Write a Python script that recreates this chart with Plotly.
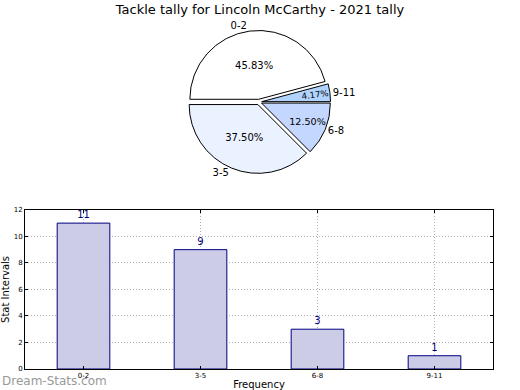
import plotly.graph_objects as go

categories = ["0-2", "3-5", "6-8", "9-11"]
counts = [11, 9, 3, 1]
pie_colors = ["#ffffff", "#eaf1ff", "#c4d8ff", "#b0d4ff"]
y_ticks = [0, 2, 4, 6, 8, 10, 12]
title_text = "Tackle tally for Lincoln McCarthy - 2021 tally"

FONT = "DejaVu Sans"
PCT = "%{percent:.2%}"

fig = go.Figure()

pie_domain = dict(x=[0.0, 1.0], y=[0.56, 0.97])
pulls = [0.04, 0.04, 0.04, 0.04]
common = dict(labels=categories, values=counts, sort=False,
              direction="counterclockwise", rotation=-90, pull=pulls,
              domain=pie_domain, showlegend=False, hoverinfo="skip")

# main coloured pie with percentages for the larger slices
fig.add_trace(go.Pie(
    **common,
    marker=dict(colors=pie_colors, line=dict(color="black", width=1)),
    texttemplate=[PCT, PCT, PCT, ""], textposition="inside",
    insidetextorientation="horizontal",
    textfont=dict(family=FONT, size=10, color="black"),
))
# percentage of the thin slice, written along its radius so it keeps its size
fig.add_trace(go.Pie(
    **common,
    marker=dict(colors=["rgba(0,0,0,0)"] * len(categories), line=dict(width=0)),
    texttemplate=["", "", "", PCT], textposition="inside",
    insidetextorientation="radial",
    textfont=dict(family=FONT, size=10, color="black"),
))
# category names outside the pie
fig.add_trace(go.Pie(
    **common,
    marker=dict(colors=["rgba(0,0,0,0)"] * len(categories), line=dict(width=0)),
    texttemplate="%{label}", textposition="outside",
    outsidetextfont=dict(family=FONT, size=10, color="black"),
))

fig.add_trace(go.Bar(
    x=categories, y=counts, xaxis="x", yaxis="y",
    marker=dict(color="#cccce6", line=dict(color="#000080", width=1)),
    texttemplate="%{y}", textposition="outside",
    textfont=dict(family=FONT, size=10, color="#000080"),
    cliponaxis=False, showlegend=False, hoverinfo="skip",
))

grid = dict(showgrid=True, gridcolor="#b0b0b0", griddash="1px,2px", gridwidth=1)

fig.update_layout(
    width=520, height=390, autosize=False, showlegend=False,
    margin=dict(l=25, r=27, t=20, b=21, autoexpand=False),
    paper_bgcolor="white", plot_bgcolor="white",
    font=dict(family=FONT, color="black"),
    title=dict(text=title_text, x=0.5, xanchor="center", y=0.988, yanchor="top",
               font=dict(family=FONT, size=13, color="black")),
    bargap=0.55,
    xaxis=dict(
        domain=[0, 1], anchor="y", range=[-0.5, 3.5],
        showline=True, mirror="ticks", linecolor="black", linewidth=1, **grid,
        ticks="inside", ticklen=3, tickcolor="black",
        tickfont=dict(family=FONT, size=7, color="black"),
        title=dict(text="Frequency", font=dict(family=FONT, size=10), standoff=7),
        automargin=False,
    ),
    yaxis=dict(
        domain=[0, 0.456], anchor="x", range=[0, 12], tickvals=y_ticks,
        showline=True, mirror="ticks", linecolor="black", linewidth=1, **grid,
        ticks="inside", ticklen=3, tickcolor="black",
        tickfont=dict(family=FONT, size=7, color="black"),
        title=dict(text="Stat Intervals", font=dict(family=FONT, size=10), standoff=6),
        automargin=False, zeroline=False,
    ),
    annotations=[dict(
        text="Dream-Stats.com", xref="paper", yref="paper", x=-0.053, y=-0.033,
        xanchor="left", yanchor="middle", showarrow=False,
        font=dict(family=FONT, size=12, color="#999999"),
    )],
)

fig.write_html("out.html", config={"displayModeBar": False},
               post_script="document.body.style.margin='0';")
